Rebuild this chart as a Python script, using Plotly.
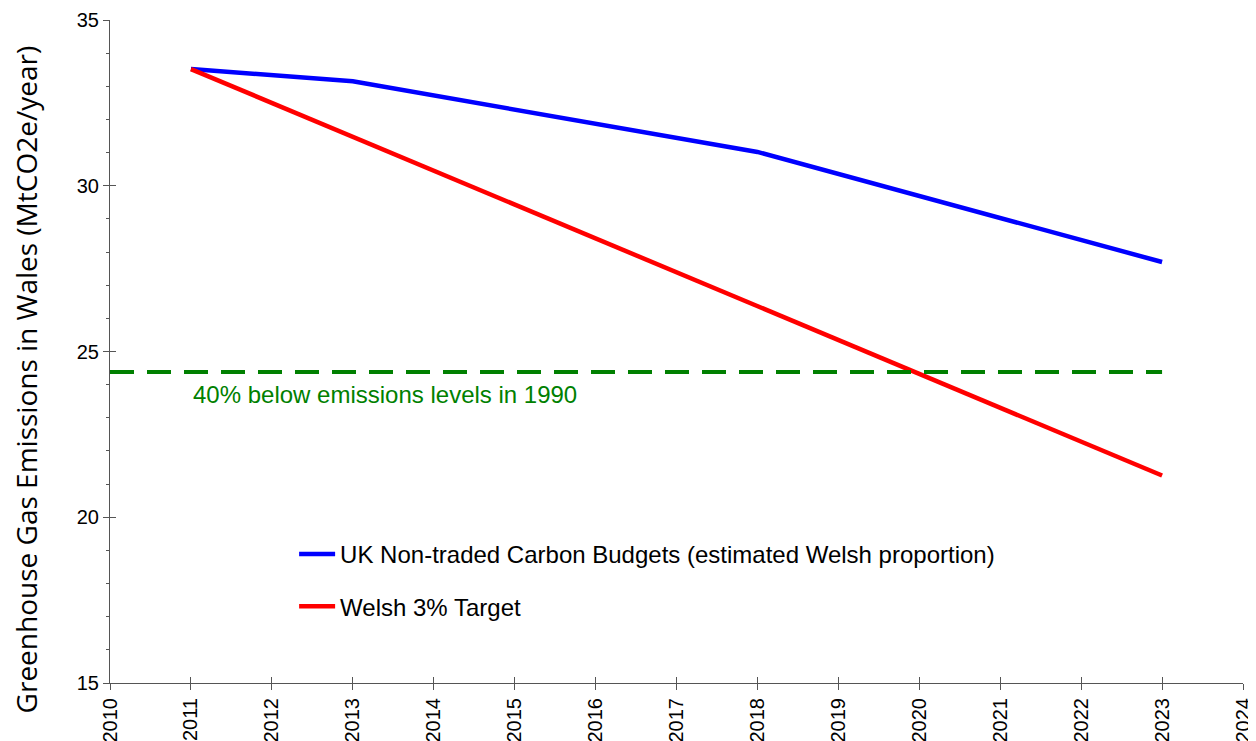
import plotly.graph_objects as go

years_uk = [2011, 2013, 2018, 2023]
uk_budget = [33.52, 33.15, 31.02, 27.70]

years_wales = [2011, 2023]
welsh_target = [33.52, 21.26]

years_line = [2010, 2023]
level_1990_40 = [24.38, 24.38]

x_ticks = list(range(2010, 2025))
y_ticks = [15, 20, 25, 30, 35]

fig = go.Figure()
fig.add_trace(go.Scatter(x=years_uk, y=uk_budget, mode="lines",
                         name="UK Non-traded Carbon Budgets (estimated Welsh proportion)",
                         line=dict(color="#0000ff", width=4.5), legendgroup="a"))
fig.add_trace(go.Scatter(x=years_wales, y=welsh_target, mode="lines",
                         name="Welsh 3% Target",
                         line=dict(color="#ff0000", width=4.5), legendgroup="b"))
fig.add_trace(go.Scatter(x=years_line, y=level_1990_40, mode="lines",
                         line=dict(color="#008000", width=4, dash="24px,13px"),
                         showlegend=False, hoverinfo="skip"))
# helper traces for the inner half of crossing ticks
fig.add_trace(go.Scatter(x=[x_ticks[0], x_ticks[-1]], y=[None, None], xaxis="x2",
                         mode="lines", showlegend=False, hoverinfo="skip"))
fig.add_trace(go.Scatter(x=[None, None], y=[y_ticks[0], y_ticks[-1]], yaxis="y2",
                         mode="lines", showlegend=False, hoverinfo="skip"))

fig.add_annotation(x=2011, y=23.69, text="40% below emissions levels in 1990",
                   xanchor="left", yanchor="middle", showarrow=False,
                   font=dict(family="Liberation Sans, Arial", size=24, color="#008000"))

# y-axis title (placed as annotation to match its off-centre position)
fig.add_annotation(xref="paper", yref="paper", x=-0.0738, y=0.4585,
                   text="Greenhouse Gas Emissions in Wales (MtCO2e/year)",
                   textangle=-90, xanchor="center", yanchor="middle", showarrow=False,
                   borderpad=0,
                   font=dict(family="Open Sans", size=28, color="black"))

axis_col = "#555555"
fig.update_layout(
    width=1248, height=733,
    margin=dict(l=102, r=13, t=12, b=58),
    paper_bgcolor="white", plot_bgcolor="white",
    font=dict(family="Liberation Sans, Arial", size=20, color="black"),
    xaxis=dict(range=[2010, 2024], tickvals=x_ticks, tickangle=-90,
               showgrid=False, zeroline=False, showline=True, linecolor=axis_col,
               ticks="outside", ticklen=6, tickcolor=axis_col,
               tickfont=dict(size=20), automargin=False),
    xaxis2=dict(range=[2010, 2024], tickvals=x_ticks, overlaying="x", anchor="y",
                showgrid=False, zeroline=False, showline=False, showticklabels=False,
                ticks="inside", ticklen=6, tickcolor=axis_col),
    yaxis=dict(range=[15, 35], tickvals=y_ticks,
               showgrid=False, zeroline=False, showline=True, linecolor=axis_col,
               ticks="outside", ticklen=6, tickcolor=axis_col,
               minor=dict(dtick=1, ticks="outside", ticklen=3, tickcolor=axis_col),
               tickfont=dict(size=20), automargin=False),
    yaxis2=dict(range=[15, 35], tickvals=y_ticks, overlaying="y", anchor="x",
                side="left", showgrid=False, zeroline=False, showline=False,
                showticklabels=False, ticks="inside", ticklen=6, tickcolor=axis_col),
    legend=dict(x=0.1625, y=0.228, xanchor="left", yanchor="top",
                font=dict(family="Liberation Sans, Arial", size=24, color="black"),
                bgcolor="rgba(0,0,0,0)", traceorder="grouped", tracegroupgap=18,
                itemwidth=36),
    showlegend=True,
)

fig.write_html("out.html")
